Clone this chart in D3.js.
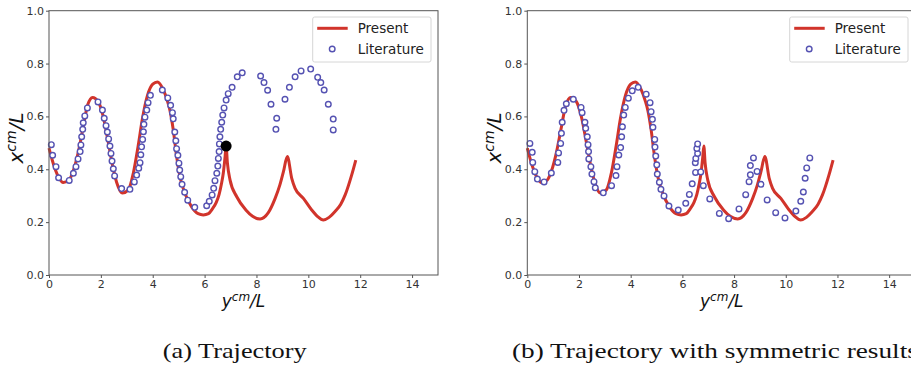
<!DOCTYPE html>
<html>
<head>
<meta charset="utf-8">
<script src="https://cdn.jsdelivr.net/npm/d3@7"></script>
<style>
  html, body { margin: 0; padding: 0; background: #fff; }
  svg { display: block; overflow: hidden; }
</style>
</head>
<body>
<div id="chart"></div>
<script>
// Present trajectory (same curve in both panels)
const presentX = [0.00, 0.17, 0.36, 0.55, 0.77, 0.94, 1.13, 1.32, 1.49, 1.68, 1.90, 2.09, 2.29, 2.46, 2.61, 2.83,
  3.06, 3.25, 3.44, 3.60, 3.80, 4.00, 4.18, 4.41, 4.56, 4.67, 4.79, 4.92, 5.05, 5.24, 5.50, 5.75, 5.95, 6.15,
  6.30, 6.45, 6.56, 6.65, 6.72, 6.79, 6.83, 6.88, 6.98, 7.24, 7.60, 7.85, 8.14, 8.45, 8.72, 8.90, 9.04, 9.19,
  9.36, 9.49, 9.81, 10.13, 10.35, 10.58, 10.80, 11.03, 11.25, 11.42, 11.67, 11.83]
const presentY = [0.48, 0.42, 0.372, 0.35, 0.359, 0.395, 0.465, 0.56, 0.643, 0.672, 0.656, 0.60, 0.50, 0.41, 0.35, 0.31,
  0.322, 0.385, 0.49, 0.59, 0.68, 0.722, 0.73, 0.70, 0.66, 0.62, 0.55, 0.45, 0.372, 0.309, 0.258, 0.232, 0.227, 0.232,
  0.25, 0.275, 0.305, 0.345, 0.385, 0.448, 0.488, 0.423, 0.36, 0.296, 0.245, 0.222, 0.212, 0.235, 0.29, 0.34, 0.391, 0.448,
  0.366, 0.328, 0.29, 0.246, 0.222, 0.208, 0.218, 0.24, 0.268, 0.303, 0.378, 0.435]

// Literature, panel (a)
const litAX = [0.09, 0.14, 0.27, 0.37, 0.78, 0.94, 1.04, 1.12, 1.20, 1.23, 1.26, 1.30, 1.32, 1.38, 1.48, 1.89,
  2.06, 2.13, 2.20, 2.25, 2.30, 2.35, 2.39, 2.43, 2.48, 2.53, 2.80, 3.12, 3.29, 3.38, 3.46, 3.51, 3.54, 3.57,
  3.61, 3.64, 3.66, 3.70, 3.77, 3.82, 3.91, 4.37, 4.58, 4.69, 4.76, 4.79, 4.85, 4.89, 4.92, 4.97, 5.01, 5.04,
  5.08, 5.13, 5.23, 5.35, 5.62, 6.08, 6.18, 6.29, 6.35, 6.40, 6.47, 6.51, 6.53, 6.56, 6.57, 6.59, 6.62, 6.66,
  6.70, 6.75, 6.83, 6.91, 7.06, 7.26, 7.45, 8.16, 8.29, 8.43, 8.56, 8.78, 8.75, 9.10, 9.27, 9.49, 9.72, 10.09,
  10.36, 10.48, 10.61, 10.77, 10.96, 10.96]
const litAY = [0.493, 0.453, 0.41, 0.368, 0.358, 0.385, 0.41, 0.439, 0.467, 0.492, 0.523, 0.551, 0.576, 0.602, 0.632, 0.655,
  0.624, 0.593, 0.565, 0.541, 0.515, 0.488, 0.46, 0.431, 0.402, 0.375, 0.327, 0.324, 0.352, 0.378, 0.404, 0.425, 0.455, 0.485,
  0.513, 0.542, 0.57, 0.597, 0.624, 0.652, 0.68, 0.70, 0.67, 0.642, 0.614, 0.591, 0.541, 0.508, 0.478, 0.453, 0.423, 0.397,
  0.372, 0.343, 0.313, 0.283, 0.256, 0.262, 0.279, 0.303, 0.328, 0.357, 0.385, 0.412, 0.441, 0.467, 0.496, 0.523, 0.551, 0.578,
  0.605, 0.632, 0.662, 0.686, 0.71, 0.75, 0.765, 0.753, 0.728, 0.699, 0.646, 0.593, 0.551, 0.665, 0.71, 0.75, 0.772, 0.779,
  0.748, 0.728, 0.70, 0.646, 0.59, 0.549]

// Literature with symmetric results, panel (b)
const litBX = [0.10, 0.19, 0.21, 0.29, 0.39, 0.65, 0.93, 1.18, 1.21, 1.29, 1.32, 1.35, 1.42, 1.51, 1.78, 2.08,
  2.12, 2.23, 2.26, 2.32, 2.35, 2.37, 2.38, 2.46, 2.50, 2.58, 2.63, 2.94, 3.26, 3.43, 3.47, 3.54, 3.61, 3.65,
  3.68, 3.73, 3.79, 3.91, 4.06, 4.29, 4.60, 4.75, 4.79, 4.84, 4.86, 4.93, 4.94, 4.97, 5.01, 5.03, 5.11, 5.17,
  5.29, 5.48, 5.84, 6.13, 6.27, 6.38, 6.51, 6.50, 6.52, 6.59, 6.56, 6.59, 6.71, 6.81, 7.06, 7.43, 7.79, 8.19,
  8.45, 8.58, 8.63, 8.63, 8.75, 8.89, 9.04, 9.28, 9.61, 9.97, 10.39, 10.58, 10.68, 10.75, 10.81, 10.93]
const litBY = [0.498, 0.464, 0.426, 0.391, 0.363, 0.352, 0.386, 0.426, 0.462, 0.498, 0.536, 0.578, 0.623, 0.648, 0.665, 0.634,
  0.614, 0.578, 0.555, 0.523, 0.493, 0.467, 0.439, 0.41, 0.382, 0.353, 0.33, 0.311, 0.338, 0.376, 0.41, 0.454, 0.482, 0.523,
  0.561, 0.605, 0.634, 0.669, 0.697, 0.71, 0.684, 0.652, 0.618, 0.589, 0.559, 0.513, 0.484, 0.45, 0.417, 0.382, 0.351, 0.324,
  0.299, 0.261, 0.246, 0.271, 0.305, 0.345, 0.388, 0.425, 0.441, 0.46, 0.479, 0.496, 0.39, 0.338, 0.288, 0.233, 0.213, 0.25,
  0.304, 0.353, 0.379, 0.414, 0.443, 0.392, 0.343, 0.284, 0.236, 0.216, 0.242, 0.279, 0.314, 0.366, 0.405, 0.443]

// black marker on panel (a)
const dotX = [6.83]
const dotY = [0.488]

const xTicks = [0, 2, 4, 6, 8, 10, 12, 14]
const yTicks = [0.0, 0.2, 0.4, 0.6, 0.8, 1.0]
const seriesNames = ['Present', 'Literature']
const captions = ['(a) Trajectory', '(b) Trajectory with symmetric results']

const width = 911
const height = 367
const red = '#d1342b'
const blue = '#5552b2'
const axisColor = '#555'
const tickFont = '11px "DejaVu Sans", sans-serif'

const svg = d3.select('#chart')
  .append('svg')
  .attr('width', width)
  .attr('height', height)

svg.append('rect').attr('width', width).attr('height', height).attr('fill', '#fff')

// captionW: printed width of the caption (the (b) one runs past the right edge)
const panels = [
  { left: 49, right: 438, litX: litAX, litY: litAY, dot: true, caption: captions[0], captionX: 162.7, captionW: 144 },
  { left: 527.3, right: 915, litX: litBX, litY: litBY, dot: false, caption: captions[1], captionX: 512, captionW: 406 }
]

const plotTop = 10.7
const plotBottom = 275

panels.forEach(p => {
  const x = d3.scaleLinear().domain([0, 15]).range([p.left, p.right])
  const y = d3.scaleLinear().domain([0, 1]).range([plotBottom, plotTop])
  const g = svg.append('g')

  // axes
  g.append('g')
    .attr('transform', `translate(0,${plotBottom})`)
    .call(d3.axisBottom(x).tickValues(xTicks).tickFormat(d3.format('d')).tickSize(3).tickPadding(2))
    .call(a => a.select('.domain').remove())
    .call(a => a.selectAll('line').attr('stroke', axisColor))
    .call(a => a.selectAll('text').attr('fill', '#333').style('font', tickFont))

  g.append('g')
    .attr('transform', `translate(${p.left},0)`)
    .call(d3.axisLeft(y).tickValues(yTicks).tickFormat(d3.format('.1f')).tickSize(3).tickPadding(2))
    .call(a => a.select('.domain').remove())
    .call(a => a.selectAll('line').attr('stroke', axisColor))
    .call(a => a.selectAll('text').attr('fill', '#333').style('font', tickFont))

  // present curve
  const pts = presentX.map((v, i) => [v, presentY[i]])
  g.append('path')
    .datum(pts)
    .attr('fill', 'none')
    .attr('stroke', red)
    .attr('stroke-width', 3)
    .attr('stroke-linejoin', 'round')
    .attr('d', d3.line().x(d => x(d[0])).y(d => y(d[1])).curve(d3.curveMonotoneX))

  // literature markers
  g.append('g')
    .selectAll('circle')
    .data(p.litX.map((v, i) => [v, p.litY[i]]))
    .join('circle')
    .attr('cx', d => x(d[0]))
    .attr('cy', d => y(d[1]))
    .attr('r', 2.8)
    .attr('fill', '#fff')
    .attr('stroke', blue)
    .attr('stroke-width', 1.4)

  if (p.dot) {
    g.selectAll('.dot')
      .data(dotX.map((v, i) => [v, dotY[i]]))
      .join('circle')
      .attr('class', 'dot')
      .attr('cx', d => x(d[0]))
      .attr('cy', d => y(d[1]))
      .attr('r', 5.5)
      .attr('fill', '#000')
  }

  // frame
  g.append('rect')
    .attr('x', p.left)
    .attr('y', plotTop)
    .attr('width', p.right - p.left)
    .attr('height', plotBottom - plotTop)
    .attr('fill', 'none')
    .attr('stroke', axisColor)
    .attr('stroke-width', 1)

  // legend
  const lx = p.right - 7 - 118.3
  const lg = g.append('g').attr('transform', `translate(${lx},17)`)
  lg.append('rect')
    .attr('width', 118.3).attr('height', 45)
    .attr('rx', 2)
    .attr('fill', '#fff').attr('stroke', '#d6d6d6')
  lg.append('line')
    .attr('x1', 4.5).attr('x2', 35).attr('y1', 11.3).attr('y2', 11.3)
    .attr('stroke', red).attr('stroke-width', 3)
  lg.append('circle')
    .attr('cx', 19.5).attr('cy', 32)
    .attr('r', 2.8).attr('fill', '#fff').attr('stroke', blue).attr('stroke-width', 1.4)
  lg.selectAll('text.lab')
    .data(seriesNames)
    .join('text')
    .attr('class', 'lab')
    .attr('x', 45)
    .attr('y', (d, i) => 11.3 + i * 20.7)
    .attr('dy', '0.35em')
    .attr('fill', '#222')
    .style('font', '13.5px "DejaVu Sans", sans-serif')
    .text(d => d)

  // axis titles
  const cx = (p.left + (p.left + 389)) / 2
  const xl = g.append('text')
    .attr('x', cx)
    .attr('y', 307)
    .attr('text-anchor', 'middle')
    .attr('fill', '#111')
    .style('font', 'italic 17px "DejaVu Sans", sans-serif')
  xl.append('tspan').text('y')
  xl.append('tspan').attr('dy', -6).style('font-size', '12px').text('cm')
  xl.append('tspan').attr('dy', 6).text('/L')

  const yl = g.append('text')
    .attr('transform', `translate(${p.left - 26},138) rotate(-90)`)
    .attr('text-anchor', 'middle')
    .attr('fill', '#111')
    .style('font', 'italic 20px "DejaVu Sans", sans-serif')
  yl.append('tspan').text('x')
  yl.append('tspan').attr('dy', -7).style('font-size', '14px').text('cm')
  yl.append('tspan').attr('dy', 7).text('/L')

  // caption, widened horizontally to the look of the Computer Modern original
  const cap = svg.append('text')
    .attr('fill', '#111')
    .style('font', '20px "Liberation Serif", serif')
    .text(p.caption)
  const sx = p.captionW / cap.node().getComputedTextLength()
  cap.attr('transform', `translate(${p.captionX},358) scale(${sx},1)`)
})
</script>
</body>
</html>
